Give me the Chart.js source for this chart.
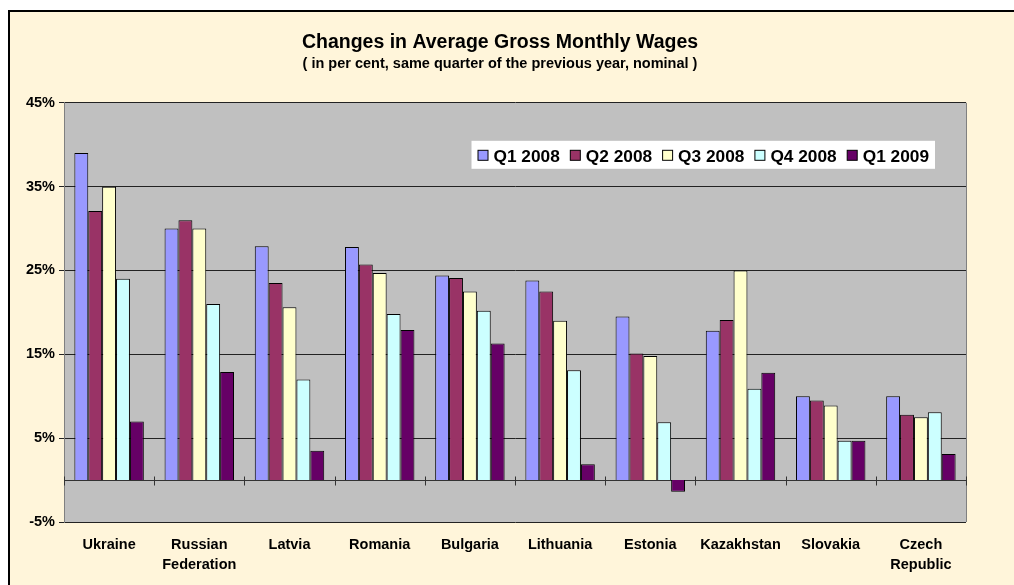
<!DOCTYPE html>
<html>
<head>
<meta charset="utf-8">
<script src="https://cdn.jsdelivr.net/npm/chart.js@4.4.1/dist/chart.umd.min.js"></script>
<style>
  html, body { margin: 0; padding: 0; background: #fff; }
  canvas { display: block; }
</style>
</head>
<body>
<canvas id="wages" width="1014" height="585"></canvas>
<script>
// values, in per cent
const categories = ["Ukraine", ["Russian", "Federation"], "Latvia", "Romania", "Bulgaria",
  "Lithuania", "Estonia", "Kazakhstan", "Slovakia", ["Czech", "Republic"]];
const seriesNames = ["Q1 2008", "Q2 2008", "Q3 2008", "Q4 2008", "Q1 2009"];
const q1_2008 = [39.0, 30.0, 27.9, 27.8, 24.4, 23.8, 19.5, 17.8, 10.0, 10.0];
const q2_2008 = [32.1, 31.0, 23.5, 25.7, 24.1, 22.5, 15.1, 19.1, 9.5, 7.8];
const q3_2008 = [35.0, 30.0, 20.6, 24.7, 22.5, 19.0, 14.8, 25.0, 8.9, 7.5];
const q4_2008 = [24.0, 21.0, 12.0, 19.8, 20.2, 13.1, 6.9, 10.9, 4.7, 8.1];
const q1_2009 = [7.0, 12.9, 3.5, 17.9, 16.3, 1.9, -1.4, 12.8, 4.7, 3.1];
const yMin = -5, yMax = 45, yStep = 10;

const colors = ["#9999FF", "#993366", "#FFFFCC", "#CCFFFF", "#660066"];
const FONT = "'Liberation Sans', Arial, sans-serif";

Chart.defaults.color = "#000";
Chart.defaults.font.family = FONT;

const frame = {
  id: "frame",
  beforeDraw(chart) {
    const { ctx, width, height, chartArea: a } = chart;
    ctx.save();
    ctx.fillStyle = "#fff";
    ctx.fillRect(0, 0, width, height);
    ctx.fillStyle = "#FFF5DA";
    ctx.fillRect(8, 10, width - 8, height - 10);
    ctx.strokeStyle = "#000";
    ctx.lineWidth = 2;
    ctx.beginPath();
    ctx.moveTo(9, height);
    ctx.lineTo(9, 11);
    ctx.lineTo(width, 11);
    ctx.stroke();
    ctx.fillStyle = "#C0C0C0";
    ctx.fillRect(a.left, a.top, a.right - a.left, a.bottom - a.top);
    ctx.restore();
  },
  beforeDatasetsDraw(chart) {
    // right edge of plot and the category axis at zero
    const { ctx, chartArea: a, scales } = chart;
    const y0 = Math.round(scales.y.getPixelForValue(0)) + 0.5;
    ctx.save();
    ctx.strokeStyle = "#808080";
    ctx.lineWidth = 1;
    ctx.beginPath();
    ctx.moveTo(Math.round(a.right) + 0.5, a.top);
    ctx.lineTo(Math.round(a.right) + 0.5, a.bottom);
    ctx.stroke();
    ctx.strokeStyle = "#333";
    ctx.beginPath();
    ctx.moveTo(a.left, y0);
    ctx.lineTo(a.right, y0);
    const n = categories.length;
    const w = (a.right - a.left) / n;
    for (let i = 0; i <= n; i++) {
      const x = Math.round(a.left + i * w) + 0.5;
      ctx.moveTo(x, y0 - 4);
      ctx.lineTo(x, y0 + 5);
    }
    ctx.stroke();
    ctx.restore();
  },
  afterDraw(chart) {
    // legend box inside the plot, top right
    const { ctx, chartArea: a } = chart;
    ctx.save();
    ctx.font = "bold 17.3px " + FONT;
    ctx.textBaseline = "middle";
    const sw = 10, gap = 6, itemGap = 10, pad = 6;
    const items = chart.data.datasets.map(d => ({ label: d.label, color: d.backgroundColor, w: ctx.measureText(d.label).width }));
    let total = pad * 2 - itemGap;
    items.forEach(it => { total += sw + gap + it.w + itemGap; });
    const boxR = a.right - 31, boxT = a.top + 38, boxH = 28;
    const boxL = boxR - total;
    ctx.fillStyle = "#fff";
    ctx.fillRect(boxL, boxT, total, boxH);
    let x = boxL + pad;
    const cy = boxT + boxH / 2 + 1;
    items.forEach(it => {
      ctx.fillStyle = it.color;
      ctx.fillRect(x + 0.5, cy - 5.5, sw, sw);
      ctx.strokeStyle = "#000";
      ctx.lineWidth = 1;
      ctx.strokeRect(x + 0.5, cy - 5.5, sw, sw);
      x += sw + gap;
      ctx.fillStyle = "#000";
      ctx.fillText(it.label, x, cy + 1);
      x += it.w + itemGap;
    });
    ctx.restore();
  }
};

const series = [q1_2008, q2_2008, q3_2008, q4_2008, q1_2009];

new Chart(document.getElementById("wages"), {
  type: "bar",
  data: {
    labels: categories,
    datasets: series.map((vals, i) => ({
      label: seriesNames[i],
      data: vals,
      backgroundColor: colors[i],
      borderColor: "#000",
      borderWidth: 1,
      barPercentage: 1,
      categoryPercentage: 0.77
    }))
  },
  options: {
    responsive: false,
    animation: false,
    devicePixelRatio: 1,
    layout: { padding: { top: 20, left: 8, right: 22, bottom: 0 } },
    plugins: {
      legend: { display: false },
      tooltip: { enabled: false },
      title: {
        display: true,
        text: "Changes in Average Gross Monthly Wages",
        font: { size: 19.5, weight: "bold" },
        padding: { top: 11, bottom: 0 }
      },
      subtitle: {
        display: true,
        text: "( in per cent, same quarter of the previous year, nominal )",
        color: "#000",
        font: { size: 14.5, weight: "bold" },
        padding: { top: 1, bottom: 30 }
      }
    },
    scales: {
      x: {
        grid: { display: false, drawTicks: false },
        border: { display: false },
        ticks: {
          padding: 13,
          maxRotation: 0,
          autoSkip: false,
          font: { size: 14.5, weight: "bold", lineHeight: 1.4 }
        },
        afterFit(scale) { scale.height = 63; }
      },
      y: {
        min: yMin,
        max: yMax,
        ticks: {
          stepSize: yStep,
          padding: 4,
          font: { size: 14.5, weight: "bold" },
          callback: v => v + "%"
        },
        grid: { color: "#222", lineWidth: 1, tickLength: 5 },
        border: { color: "#808080" },
        afterFit(scale) { scale.width = 56; }
      },
      // empty right-hand margin so the title centres like the original
      spacer: {
        type: "linear",
        position: "right",
        grid: { display: false, drawTicks: false },
        border: { display: false },
        ticks: { display: false },
        afterFit(scale) { scale.width = 26; }
      }
    }
  },
  plugins: [frame]
});
</script>
</body>
</html>
